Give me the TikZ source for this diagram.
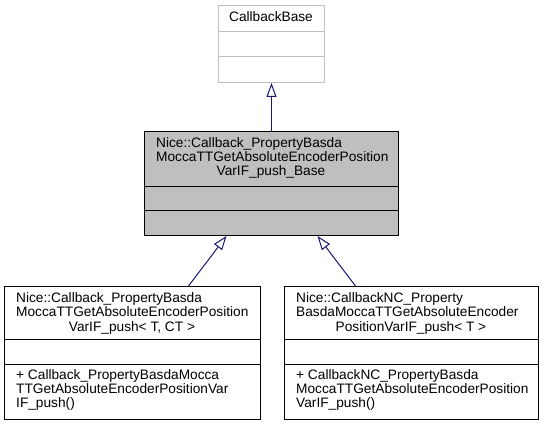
\documentclass[tikz,border=0pt]{standalone}
\usepackage{fontspec}
\setmainfont{Liberation Sans}
\usepackage{tikz}
\usetikzlibrary{arrows.meta}
\definecolor{edgeblue}{HTML}{191970}
\definecolor{basegray}{HTML}{BFBFBF}
\tikzset{
  classbox/.style={draw=black, line width=1pt, fill=white, anchor=north west, inner sep=0pt},
  txt/.style={inner sep=0pt, anchor=base west},
  ctxt/.style={inner sep=0pt, anchor=base},
  inherit/.style={draw=edgeblue, line width=1pt, -{Triangle[open, length=14pt, width=10pt, fill=white]}}
}

\begin{document}
\begin{tikzpicture}[x=1pt, y=-1pt, font=\fontsize{13.7}{15}\selectfont]
\useasboundingbox (0,0) rectangle (544,427);
% CallbackBase
\node [classbox, draw=basegray, minimum width=106pt, minimum height=77pt] (cbBase) at (218,5) {};
\draw [basegray, line width=1pt] (cbBase.west |- 0,32) -- (cbBase.east |- 0,32);
\draw [basegray, line width=1pt] (cbBase.west |- 0,57) -- (cbBase.east |- 0,57);
\node [ctxt] (cbBaseName) at (271,22) {CallbackBase};
% Callback_..._Base
\node [classbox, fill=basegray, minimum width=254pt, minimum height=104pt] (pushBase) at (144,131) {};
\draw [line width=1pt] (pushBase.west |- 0,187) -- (pushBase.east |- 0,187);
\draw [line width=1pt] (pushBase.west |- 0,211) -- (pushBase.east |- 0,211);
\node [txt] (pushBaseA) at (156,148) {Nice::Callback\_PropertyBasda};
\node [txt] (pushBaseB) at (156,162) {MoccaTTGetAbsoluteEncoderPosition};
\node [ctxt] (pushBaseC) at (271,176) {VarIF\_push\_Base};
% Callback_..._push< T, CT >
\node [classbox, minimum width=256pt, minimum height=133pt] (pushTmpl) at (4,286) {};
\draw [line width=1pt] (pushTmpl.west |- 0,340) -- (pushTmpl.east |- 0,340);
\draw [line width=1pt] (pushTmpl.west |- 0,365) -- (pushTmpl.east |- 0,365);
\node [txt] (pushTmplA) at (16,303) {Nice::Callback\_PropertyBasda};
\node [txt] (pushTmplB) at (16,317) {MoccaTTGetAbsoluteEncoderPosition};
\node [ctxt] (pushTmplC) at (132,332) {VarIF\_push< T, CT >};
\node [txt] (pushTmplD) at (16,380) {+ Callback\_PropertyBasdaMocca};
\node [txt] (pushTmplE) at (16,394) {TTGetAbsoluteEncoderPositionVar};
\node [txt] (pushTmplF) at (16,408) {IF\_push()};
% CallbackNC_..._push< T >
\node [classbox, minimum width=254pt, minimum height=133pt] (pushNC) at (284,286) {};
\draw [line width=1pt] (pushNC.west |- 0,340) -- (pushNC.east |- 0,340);
\draw [line width=1pt] (pushNC.west |- 0,365) -- (pushNC.east |- 0,365);
\node [txt] (pushNCA) at (296,303) {Nice::CallbackNC\_Property};
\node [txt] (pushNCB) at (296,317) {BasdaMoccaTTGetAbsoluteEncoder};
\node [ctxt] (pushNCC) at (411,332) {PositionVarIF\_push< T >};
\node [txt] (pushNCD) at (296,380) {+ CallbackNC\_PropertyBasda};
\node [txt] (pushNCE) at (296,394) {MoccaTTGetAbsoluteEncoderPosition};
\node [txt] (pushNCF) at (296,408) {VarIF\_push()};
% inheritance
\draw [inherit] (pushBase.north) -- (cbBase.south);
\draw [inherit] ([xshift=56pt]pushTmpl.north) -- ([xshift=-45pt]pushBase.south);
\draw [inherit] ([xshift=-56pt]pushNC.north) -- ([xshift=46pt]pushBase.south);
\end{tikzpicture}
\end{document}
